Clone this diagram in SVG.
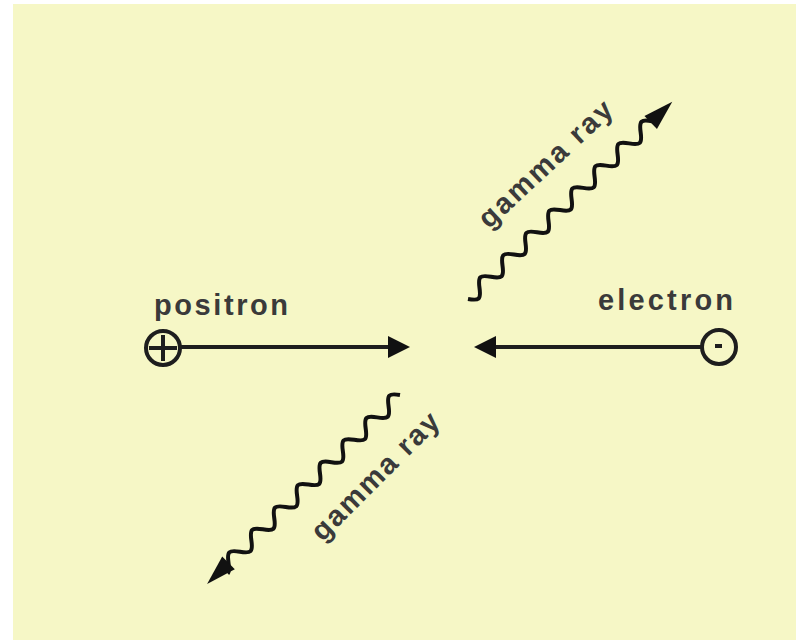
<svg xmlns="http://www.w3.org/2000/svg" width="796" height="640" viewBox="0 0 796 640">
  <style>
    .lbl { font-family: "Liberation Sans", Arial, sans-serif; font-weight: bold; font-size: 29px; fill: #3a3a3a; }
    .ring { fill: none; stroke: #1e1e1e; stroke-width: 4; }
    .line { fill: none; stroke: #1e1e1e; stroke-width: 4; }
    .wave { fill: none; stroke: #111; stroke-width: 4; stroke-linejoin: miter; }
    .head { fill: #111; }
  </style>
  <rect x="0" y="0" width="796" height="640" fill="#ffffff"/>
  <rect x="13" y="4" width="783" height="636" fill="#f6f7c6"/>

  <g id="positron">
    <circle class="ring" cx="163" cy="348" r="17"/>
    <path class="line" d="M149,348 H177 M163,335 V361"/>
    <text class="lbl" x="154" y="315" textLength="134" lengthAdjust="spacing">positron</text>
  </g>

  <g id="electron">
    <circle class="ring" cx="719" cy="347" r="17"/>
    <rect x="715" y="344" width="7" height="4" fill="#1e1e1e"/>
    <text class="lbl" x="598" y="310" textLength="135" lengthAdjust="spacing">electron</text>
  </g>

  <g id="gamma-upper">
    <text class="lbl" transform="translate(552,171) rotate(-43)" x="0" y="0" text-anchor="middle" textLength="172" lengthAdjust="spacing">gamma ray</text>
  </g>

  <g id="gamma-lower">
    <text class="lbl" transform="translate(382,483) rotate(-45)" x="0" y="0" text-anchor="middle" textLength="168" lengthAdjust="spacing">gamma ray</text>
  </g>

  <g id="connectors">
    <path class="line" d="M181,347 H392"/>
    <polygon class="head" points="388,336 410,347 388,358"/>
    <path class="line" d="M701,347 H492"/>
    <polygon class="head" points="496,336 474,347 496,358"/>

    <g transform="translate(468,299) rotate(-44)">
      <path class="wave" d="M0,0
        c2.61,3.59 5.1,7 8,7 c2.9,0 5.39,-3.41 8,-7 c2.61,-3.59 5.1,-7 8,-7 c2.9,0 5.39,3.41 8,7
        c2.61,3.59 5.1,7 8,7 c2.9,0 5.39,-3.41 8,-7 c2.61,-3.59 5.1,-7 8,-7 c2.9,0 5.39,3.41 8,7
        c2.61,3.59 5.1,7 8,7 c2.9,0 5.39,-3.41 8,-7 c2.61,-3.59 5.1,-7 8,-7 c2.9,0 5.39,3.41 8,7
        c2.61,3.59 5.1,7 8,7 c2.9,0 5.39,-3.41 8,-7 c2.61,-3.59 5.1,-7 8,-7 c2.9,0 5.39,3.41 8,7
        c2.61,3.59 5.1,7 8,7 c2.9,0 5.39,-3.41 8,-7 c2.61,-3.59 5.1,-7 8,-7 c2.9,0 5.39,3.41 8,7
        c2.61,3.59 5.1,7 8,7 c2.9,0 5.39,-3.41 8,-7 c2.61,-3.59 5.1,-7 8,-7 c2.9,0 5.39,3.41 8,7
        c2.61,3.59 5.1,7 8,7 c2.9,0 5.39,-3.41 8,-7 c2.61,-3.59 5.1,-7 8,-7 c2.9,0 5.39,3.41 8,7
        c2.61,3.59 5.1,7 8,7 c2.9,0 5.39,-3.41 8,-7 c2.61,-3.59 5.1,-7 8,-7 c2.9,0 5.39,3.41 8,7"/>
      <polygon class="head" points="254,-9 284,0 254,9"/>
    </g>

    <g transform="translate(400,395) rotate(135.6)">
      <path class="wave" d="M0,0
        c2.61,3.59 5.1,7 8,7 c2.9,0 5.39,-3.41 8,-7 c2.61,-3.59 5.1,-7 8,-7 c2.9,0 5.39,3.41 8,7
        c2.61,3.59 5.1,7 8,7 c2.9,0 5.39,-3.41 8,-7 c2.61,-3.59 5.1,-7 8,-7 c2.9,0 5.39,3.41 8,7
        c2.61,3.59 5.1,7 8,7 c2.9,0 5.39,-3.41 8,-7 c2.61,-3.59 5.1,-7 8,-7 c2.9,0 5.39,3.41 8,7
        c2.61,3.59 5.1,7 8,7 c2.9,0 5.39,-3.41 8,-7 c2.61,-3.59 5.1,-7 8,-7 c2.9,0 5.39,3.41 8,7
        c2.61,3.59 5.1,7 8,7 c2.9,0 5.39,-3.41 8,-7 c2.61,-3.59 5.1,-7 8,-7 c2.9,0 5.39,3.41 8,7
        c2.61,3.59 5.1,7 8,7 c2.9,0 5.39,-3.41 8,-7 c2.61,-3.59 5.1,-7 8,-7 c2.9,0 5.39,3.41 8,7
        c2.61,3.59 5.1,7 8,7 c2.9,0 5.39,-3.41 8,-7 c2.61,-3.59 5.1,-7 8,-7 c2.9,0 5.39,3.41 8,7
        c2.61,3.59 5.1,7 8,7 c2.9,0 5.39,-3.41 8,-7 c2.61,-3.59 5.1,-7 8,-7"/>
      <polygon class="head" points="240,-9 270,0 240,9"/>
    </g>
  </g>
</svg>
